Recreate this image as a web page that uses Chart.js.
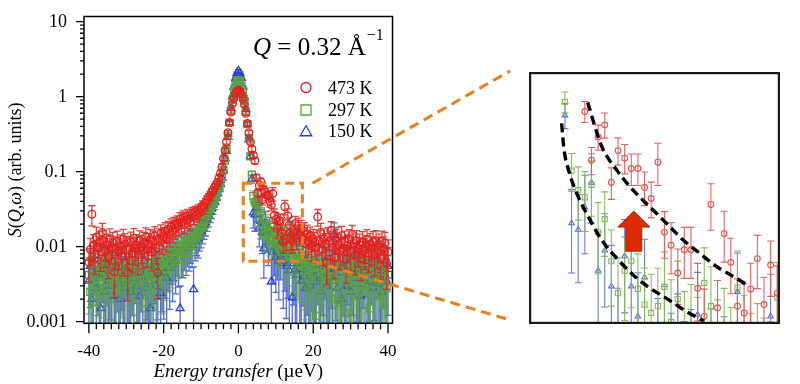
<!DOCTYPE html>
<html>
<head>
<meta charset="utf-8">
<script src="https://cdn.jsdelivr.net/npm/chart.js"></script>
<style>
  body { margin: 0; background: #fff; }
  #wrap { position: relative; width: 800px; height: 384px; }
  #main { position: absolute; left: 0; top: 0; }
  #inset { position: absolute; left: 525px; top: 68px; }
</style>
</head>
<body>
<div id="wrap">
  <canvas id="main" width="800" height="384"></canvas>
  <canvas id="inset" width="259" height="260"></canvas>
</div>
<script>
// energy transfer grid (µeV)
const energy = [
  -40,-39.6,-39.2,-38.8,-38.4,-38,-37.6,-37.2,-36.8,-36.4,
  -36,-35.6,-35.2,-34.8,-34.4,-34,-33.6,-33.2,-32.8,-32.4,
  -32,-31.6,-31.2,-30.8,-30.4,-30,-29.6,-29.2,-28.8,-28.4,
  -28,-27.6,-27.2,-26.8,-26.4,-26,-25.6,-25.2,-24.8,-24.4,
  -24,-23.6,-23.2,-22.8,-22.4,-22,-21.6,-21.2,-20.8,-20.4,
  -20,-19.6,-19.2,-18.8,-18.4,-18,-17.6,-17.2,-16.8,-16.4,
  -16,-15.6,-15.2,-14.8,-14.4,-14,-13.6,-13.2,-12.8,-12.4,
  -12,-11.6,-11.2,-10.8,-10.4,-10,-9.6,-9.2,-8.8,-8.4,
  -8,-7.6,-7.2,-6.8,-6.4,-6,-5.6,-5.2,-4.8,-4.4,
  -4,-3.6,-3.2,-2.8,-2.4,-2,-1.6,-1.2,-0.8,-0.4,
  0,
  0.4,0.8,1.2,1.6,2,2.4,2.8,3.2,3.6,4,
  4.4,4.8,5.2,5.6,6,6.4,6.8,7.2,7.6,8,
  8.4,8.8,9.2,9.6,10,10.4,10.8,11.2,11.6,12,
  12.4,12.8,13.2,13.6,14,14.4,14.8,15.2,15.6,16,
  16.4,16.8,17.2,17.6,18,18.4,18.8,19.2,19.6,20,
  20.4,20.8,21.2,21.6,22,22.4,22.8,23.2,23.6,24,
  24.4,24.8,25.2,25.6,26,26.4,26.8,27.2,27.6,28,
  28.4,28.8,29.2,29.6,30,30.4,30.8,31.2,31.6,32,
  32.4,32.8,33.2,33.6,34,34.4,34.8,35.2,35.6,36,
  36.4,36.8,37.2,37.6,38,38.4,38.8,39.2,39.6,40
];

// S(Q,w) at 473 K and relative error (%)
const s473 = [
  0.0062,0.0092,0.0270,0.0105,0.0078,0.0135,0.0098,0.0115,0.0085,0.0155,
  0.0120,0.0090,0.0105,0.0072,0.0128,0.0098,0.0112,0.0046,0.0095,0.0118,
  0.0088,0.0102,0.0075,0.0125,0.0108,0.0092,0.0045,0.0098,0.0115,0.0082,
  0.0130,0.0095,0.0105,0.0078,0.0120,0.0100,0.0088,0.0112,0.0135,0.0092,
  0.0108,0.0125,0.0085,0.0118,0.0140,0.0098,0.0045,0.0128,0.0150,0.0122,
  0.0135,0.0160,0.0128,0.0170,0.0145,0.0185,0.0160,0.0195,0.0175,0.0205,
  0.0188,0.0230,0.0210,0.0245,0.0198,0.0225,0.0260,0.0235,0.0215,0.0275,
  0.0250,0.0290,0.0265,0.0305,0.0280,0.0320,0.0350,0.0330,0.0380,0.0420,
  0.0450,0.0480,0.0530,0.0560,0.0620,0.0660,0.0720,0.0820,0.0950,0.1150,
  0.150,0.190,0.250,0.330,0.450,0.620,0.800,0.950,1.10,1.18,
  1.22,
  1.18,1.08,0.93,0.78,0.60,0.44,0.33,0.25,0.200,0.165,
  0.140,0.083,0.052,0.065,0.073,0.042,0.057,0.053,0.048,0.048,
  0.040,0.036,0.051,0.026,0.023,0.0176,0.022,0.022,0.0152,0.0116,
  0.034,0.0126,0.0257,0.0195,0.0128,0.012,0.0151,0.0202,0.013,0.019,
  0.0145,0.0175,0.0125,0.0160,0.0110,0.0148,0.0118,0.0138,0.0102,0.0128,
  0.0115,0.0098,0.0250,0.0120,0.0155,0.0092,0.0128,0.0108,0.0062,0.0135,
  0.0118,0.0165,0.0098,0.0072,0.0125,0.0135,0.0105,0.0088,0.0140,0.0095,
  0.0118,0.0068,0.0102,0.0125,0.0085,0.0145,0.0110,0.0078,0.0120,0.0092,
  0.0105,0.0070,0.0115,0.0088,0.0100,0.0125,0.0082,0.0108,0.0095,0.0115,
  0.0078,0.0120,0.0090,0.0105,0.0072,0.0118,0.0095,0.0112,0.0060,0.0085
];
const e473 = [
  45,40,30,38,45,35,40,38,45,32,
  36,42,40,48,35,40,38,55,42,36,
  44,40,46,36,38,42,58,40,36,44,
  34,40,38,46,35,40,42,38,32,42,
  38,35,44,36,32,40,55,35,30,36,
  33,30,34,28,31,27,30,26,28,25,
  26,23,25,22,25,23,21,22,24,20,
  21,19,20,18,19,17,16,17,15,14,
  13,13,12,12,11,11,10,10,9,9,
  8,8,7,7,6,6,5,5,5,5,
  5,
  5,5,5,5,6,6,7,7,8,8,
  9,10,13,12,12,15,13,14,15,15,
  16,17,20,22,24,26,24,24,27,30,
  22,30,24,26,30,32,28,25,30,26,
  30,28,33,30,35,31,34,32,37,33,
  35,38,25,36,32,40,35,38,50,34,
  36,30,40,48,36,34,40,44,33,42,
  36,52,40,35,44,32,38,46,36,42,
  40,50,38,44,40,35,45,38,42,38,
  48,36,44,40,50,36,42,38,55,45
];

// 297 K
const s297 = [
  0.0042,0.0025,0.0065,0.0018,0.0048,0.0030,0.0055,0.0022,0.0040,0.0062,
  0.0028,0.0045,0.0035,0.0058,0.0020,0.0050,0.0038,0.0068,0.0030,0.0045,
  0.0025,0.0055,0.0040,0.0032,0.0060,0.0035,0.0048,0.0022,0.0058,0.0042,
  0.0030,0.0052,0.0038,0.0065,0.0028,0.0045,0.0055,0.0018,0.0048,0.0035,
  0.0062,0.0040,0.0025,0.0052,0.0045,0.0068,0.0032,0.0055,0.0060,0.0042,
  0.0065,0.0050,0.0072,0.0058,0.0078,0.0062,0.0085,0.0070,0.0092,0.0075,
  0.0098,0.0082,0.0105,0.0090,0.0112,0.0095,0.0120,0.0105,0.0130,0.0115,
  0.0140,0.0128,0.0150,0.0140,0.0165,0.0180,0.0190,0.0215,0.0230,0.0260,
  0.0290,0.0320,0.0350,0.0390,0.0430,0.0480,0.0540,0.0620,0.0720,0.0850,
  0.105,0.140,0.200,0.300,0.450,0.650,0.900,1.15,1.40,1.60,
  1.65,
  1.58,1.38,1.12,0.87,0.63,0.43,0.28,0.16,0.091,0.047,
  0.039,0.0364,0.041,0.026,0.0295,0.0197,0.0145,0.018,0.0197,0.0151,
  0.013,0.012,0.0128,0.0154,0.0110,0.0137,0.0095,0.0105,0.0088,0.0160,
  0.0128,0.0085,0.0098,0.0078,0.0153,0.0090,0.0072,0.0082,0.0068,0.0065,
  0.0139,0.0060,0.0072,0.0055,0.0048,0.0065,0.0040,0.0058,0.0030,0.0052,
  0.0045,0.0012,0.0062,0.0038,0.0050,0.0025,0.0055,0.0042,0.0068,0.0035,
  0.0048,0.0020,0.0058,0.0040,0.0030,0.0052,0.0018,0.0045,0.0060,0.0035,
  0.0013,0.0050,0.0038,0.0062,0.0028,0.0045,0.0055,0.0022,0.0048,0.0035,
  0.0058,0.0030,0.0042,0.0065,0.0025,0.0050,0.0038,0.0015,0.0055,0.0040,
  0.0032,0.0060,0.0045,0.0022,0.0052,0.0038,0.0018,0.0048,0.0028,0.0042
];
const e297 = [
  70,85,55,95,65,80,60,90,72,58,
  82,68,75,60,92,66,74,55,80,70,
  88,62,72,78,58,75,66,90,60,70,
  80,64,74,56,85,70,62,95,66,76,
  58,72,86,64,68,54,78,62,58,70,
  56,62,52,58,50,55,48,52,45,50,
  44,48,42,45,40,43,38,41,36,39,
  35,37,33,34,30,28,27,25,23,21,
  19,18,16,15,14,13,12,11,10,9,
  8,8,7,6,6,5,5,5,5,4,
  4,
  4,5,5,5,6,6,7,8,10,18,
  25,28,26,33,30,35,40,38,36,40,
  42,45,44,40,50,44,55,50,58,40,
  46,60,55,62,42,58,66,60,68,70,
  40,70,62,74,78,66,82,70,90,75,
  80,99,66,85,74,95,70,82,60,88,
  76,98,68,84,92,72,99,80,64,88,
  99,74,86,62,92,78,70,95,76,86,
  66,90,80,60,95,74,84,99,70,82,
  90,64,78,96,72,84,99,76,92,80
];

// 150 K
const s150 = [
  0.0035,0.0055,0.0020,0.0045,0.0068,0.0028,0.0050,0.0038,0.0015,0.0060,
  0.0042,0.0025,0.0058,0.0035,0.0048,0.0030,0.0065,0.0022,0.0045,0.0052,
  0.0032,0.0020,0.0055,0.0040,0.0028,0.0062,0.0035,0.0045,0.0025,0.0050,
  0.0038,0.0058,0.0030,0.0045,0.0022,0.0052,0.0040,0.0065,0.0028,0.0048,
  0.0035,0.0015,0.0055,0.0042,0.0058,0.0030,0.0048,0.0062,0.0024,0.0052,
  0.0045,0.0060,0.0038,0.0068,0.0052,0.0075,0.0058,0.0080,0.0065,0.0088,
  0.0072,0.0015,0.0092,0.0085,0.0100,0.0090,0.0108,0.0098,0.0115,0.0105,
  0.0027,0.0120,0.0135,0.0128,0.0150,0.0160,0.0175,0.0195,0.0210,0.0235,
  0.0260,0.0290,0.0320,0.0360,0.0400,0.0450,0.0510,0.0580,0.0680,0.0820,
  0.105,0.150,0.190,0.290,0.450,0.700,1.00,1.35,1.75,2.05,
  2.20,
  2.05,1.75,1.35,0.98,0.68,0.43,0.27,0.16,0.080,0.0284,
  0.0267,0.0331,0.0419,0.0180,0.0219,0.0155,0.0095,0.0207,0.0155,0.0116,
  0.0169,0.0034,0.0085,0.0098,0.0072,0.0090,0.0065,0.0080,0.0118,0.0060,
  0.0075,0.0055,0.0068,0.0048,0.0147,0.0021,0.0060,0.0050,0.0042,0.0116,
  0.0050,0.0035,0.0062,0.0040,0.0028,0.0055,0.0045,0.0030,0.0058,0.0038,
  0.0048,0.0034,0.0060,0.0042,0.0025,0.0055,0.0038,0.0065,0.0030,0.0050,
  0.0040,0.0058,0.0035,0.0143,0.0052,0.0028,0.0062,0.0045,0.0020,0.0055,
  0.0042,0.0030,0.0060,0.0048,0.0025,0.0055,0.0038,0.0065,0.0032,0.0050,
  0.0045,0.0022,0.0058,0.0040,0.0068,0.0030,0.0050,0.0035,0.0062,0.0028,
  0.0052,0.0040,0.0065,0.0032,0.0048,0.0025,0.0058,0.0042,0.0035,0.0055
];
const e150 = [
  88,72,99,80,65,95,76,85,99,70,
  82,96,72,88,78,92,66,99,80,74,
  90,99,74,84,95,68,88,80,97,76,
  86,70,94,80,99,74,84,66,95,78,
  88,99,72,82,70,92,78,68,99,74,
  76,66,84,62,72,58,68,56,64,54,
  60,99,58,55,52,54,50,52,48,50,
  99,46,44,45,42,40,38,36,34,32,
  30,28,26,24,22,20,18,16,14,12,
  10,9,8,7,6,5,5,4,4,4,
  4,
  4,4,4,5,5,6,7,9,12,38,
  40,36,32,45,42,48,60,42,46,52,
  44,99,62,58,66,60,70,55,50,75,
  66,80,70,85,45,99,72,82,90,50,
  85,96,74,90,99,78,88,97,76,92,
  84,99,72,90,99,78,92,70,99,82,
  90,74,96,45,80,99,72,88,99,78,
  88,99,72,84,99,78,92,68,96,80,
  86,99,74,90,68,97,80,94,72,99,
  80,90,68,97,84,99,74,88,95,78
];

const seriesLabels = ['473 K', '297 K', '150 K'];

// guide curves drawn in the magnified panel
const guideUpperX = [4.97, 5.79, 6.78, 7.75, 8.74, 9.72, 10.69, 11.68, 12.66, 13.64, 14.52];
const guideUpperY = [0.0906, 0.060, 0.0467, 0.0387, 0.0331, 0.0284, 0.0243, 0.0214, 0.0189, 0.0172, 0.0158];
const guideLowerX = [3.40, 3.54, 3.84, 4.42, 5.01, 5.79, 6.78, 7.75, 8.74, 9.72, 10.89, 11.97];
const guideLowerY = [0.074, 0.058, 0.0467, 0.0364, 0.0302, 0.0243, 0.0201, 0.0172, 0.0152, 0.0138, 0.0122, 0.0111];

// arrow in the magnified panel (energy, from, to)
const arrowX = 7.75, arrowFrom = 0.0217, arrowTo = 0.0319;

// zoom box on the main panel
const boxX = [1.3, 17.1], boxY = [0.0064, 0.07];

const xTicks = [-40, -20, 0, 20, 40];
const yTicks = [0.001, 0.01, 0.1, 1, 10];
const yTickLabels = ['0.001', '0.01', '0.1', '1', '10'];

const SERIF = '"Liberation Serif", "Times New Roman", serif';
const RED = '#e3201b', GREEN = '#5ba33b', BLUE = '#2741d6', ORANGE = '#e8801e';

function pts(ys) {
  return energy.map((x, i) => ({ x: x, y: ys[i] }));
}

function drawRich(ctx, parts, x, y, align) {
  let w = 0;
  parts.forEach(p => { ctx.font = p[1]; w += ctx.measureText(p[0]).width; });
  let cx = align === 'center' ? x - w / 2 : x;
  parts.forEach(p => { ctx.font = p[1]; ctx.fillText(p[0], cx, y); cx += ctx.measureText(p[0]).width; });
  return cx;
}

function marker(ctx, style, x, y, r) {
  ctx.beginPath();
  if (style === 'circle') {
    ctx.arc(x, y, r, 0, Math.PI * 2);
  } else if (style === 'rect') {
    ctx.rect(x - r, y - r, 2 * r, 2 * r);
  } else {
    ctx.moveTo(x, y - r * 1.05);
    ctx.lineTo(x + r * 1.15, y + r * 0.95);
    ctx.lineTo(x - r * 1.15, y + r * 0.95);
    ctx.closePath();
  }
  ctx.stroke();
}

// error bars, drawn just before each dataset's markers
const errorBars = {
  id: 'errorBars',
  beforeDatasetDraw(chart, args, opts) {
    const ds = chart.data.datasets[args.index];
    if (!ds.errPct) return;
    const { ctx, chartArea: a, scales: { x, y } } = chart;
    const cap = opts.cap;
    ctx.save();
    ctx.beginPath();
    ctx.rect(a.left, a.top, a.right - a.left, a.bottom - a.top);
    ctx.clip();
    ctx.strokeStyle = ds.barColor;
    ctx.lineWidth = opts.width;
    ctx.beginPath();
    ds.data.forEach((p, i) => {
      const px = x.getPixelForValue(p.x);
      if (px < a.left - 10 || px > a.right + 10) return;
      const e = p.y * ds.errPct[i] / 100;
      const top = y.getPixelForValue(p.y + e);
      const lo = p.y - e;
      const bot = lo > 0 ? Math.min(y.getPixelForValue(lo), a.bottom + 10) : a.bottom + 10;
      ctx.moveTo(px, top); ctx.lineTo(px, bot);
      ctx.moveTo(px - cap, top); ctx.lineTo(px + cap, top);
      if (lo > 0) { ctx.moveTo(px - cap, bot); ctx.lineTo(px + cap, bot); }
    });
    ctx.stroke();
    ctx.restore();
  }
};

const mainDecor = {
  id: 'mainDecor',
  afterDraw(chart) {
    const { ctx, chartArea: a, scales: { x, y } } = chart;
    ctx.save();
    ctx.strokeStyle = '#000';
    ctx.fillStyle = '#000';

    // frame
    ctx.lineWidth = 1.5;
    ctx.strokeRect(a.left, a.top, a.right - a.left, a.bottom - a.top);

    // ticks
    ctx.lineWidth = 1.3;
    ctx.beginPath();
    yTicks.forEach(v => {
      const py = y.getPixelForValue(v);
      ctx.moveTo(a.left, py); ctx.lineTo(a.left - 8, py);
    });
    yTicks.slice(0, -1).forEach(v => {
      for (let k = 2; k <= 9; k++) {
        const py = y.getPixelForValue(v * k);
        ctx.moveTo(a.left, py); ctx.lineTo(a.left - 4, py);
      }
    });
    xTicks.forEach(v => {
      const px = x.getPixelForValue(v);
      ctx.moveTo(px, a.bottom); ctx.lineTo(px, a.bottom + 10);
    });
    for (let v = -38; v < 40; v += 2) {
      if (v % 20 === 0) continue;
      const px = x.getPixelForValue(v);
      ctx.moveTo(px, a.bottom); ctx.lineTo(px, a.bottom + 6);
    }
    ctx.stroke();

    // tick labels
    ctx.font = '18px ' + SERIF;
    ctx.textAlign = 'right';
    ctx.textBaseline = 'middle';
    yTicks.forEach((v, i) => ctx.fillText(yTickLabels[i], a.left - 17, y.getPixelForValue(v) + 1));
    ctx.font = '17px ' + SERIF;
    ctx.textAlign = 'center';
    ctx.textBaseline = 'alphabetic';
    xTicks.forEach(v => ctx.fillText(String(v), x.getPixelForValue(v), 356));

    // axis titles
    ctx.textAlign = 'left';
    drawRich(ctx, [['Energy transfer', 'italic 19px ' + SERIF], [' (\u00b5eV)', '19px ' + SERIF]],
      (a.left + a.right) / 2, 377, 'center');
    ctx.save();
    ctx.translate(21, (a.top + a.bottom) / 2);
    ctx.rotate(-Math.PI / 2);
    const it = 'italic 18px ' + SERIF, rm = '18px ' + SERIF;
    drawRich(ctx, [['S', it], ['(', rm], ['Q', it], [',', rm], ['\u03c9', it], [') (arb. units)', rm]], 0, 0, 'center');
    ctx.restore();

    // Q label
    const end = drawRich(ctx, [['Q', 'italic 25px ' + SERIF], [' = 0.32 \u00c5', '25px ' + SERIF]], 253, 54.5, 'left');
    ctx.font = '16px ' + SERIF;
    ctx.fillText('\u22121', end + 1, 40);

    // legend
    const colors = [RED, GREEN, BLUE], styles = ['circle', 'rect', 'triangle'], ly = [87.5, 110, 131];
    ctx.font = '18px ' + SERIF;
    ctx.lineWidth = 1.3;
    seriesLabels.forEach((lab, i) => {
      ctx.strokeStyle = colors[i];
      marker(ctx, styles[i], 306, ly[i], 5);
      ctx.fillStyle = '#000';
      ctx.fillText(lab, 328, ly[i] + 6);
    });

    // zoom box and connectors
    const bx0 = x.getPixelForValue(boxX[0]), bx1 = x.getPixelForValue(boxX[1]);
    const by0 = y.getPixelForValue(boxY[1]), by1 = y.getPixelForValue(boxY[0]);
    ctx.strokeStyle = ORANGE;
    ctx.lineWidth = 3;
    ctx.setLineDash([9, 5]);
    ctx.strokeRect(bx0, by0, bx1 - bx0, by1 - by0);
    ctx.setLineDash([10, 6]);
    ctx.beginPath();
    ctx.moveTo(bx1 + 10, by0); ctx.lineTo(510, 71);
    ctx.moveTo(bx1 + 10, by1); ctx.lineTo(510, 320);
    ctx.stroke();
    ctx.restore();
  }
};

const insetDecor = {
  id: 'insetDecor',
  afterDatasetsDraw(chart) {
    const { ctx, scales: { x, y } } = chart;
    const px = x.getPixelForValue(arrowX);
    const tip = y.getPixelForValue(arrowTo), base = y.getPixelForValue(arrowFrom);
    ctx.save();
    ctx.fillStyle = '#dd2a00';
    ctx.strokeStyle = '#b82000';
    ctx.lineWidth = 1;
    ctx.beginPath();
    ctx.moveTo(px, tip);
    ctx.lineTo(px + 16, tip + 16);
    ctx.lineTo(px + 8, tip + 16);
    ctx.lineTo(px + 8, base);
    ctx.lineTo(px - 8, base);
    ctx.lineTo(px - 8, tip + 16);
    ctx.lineTo(px - 16, tip + 16);
    ctx.closePath();
    ctx.fill();
    ctx.stroke();
    ctx.restore();
  },
  afterDraw(chart) {
    const { ctx, chartArea: a } = chart;
    ctx.save();
    ctx.strokeStyle = '#1a1a1a';
    ctx.lineWidth = 2.2;
    ctx.strokeRect(a.left, a.top, a.right - a.left, a.bottom - a.top);
    ctx.restore();
  }
};

function seriesSet(big) {
  const c = big
    ? [[RED, 'rgba(227,32,27,0.85)'], [GREEN, 'rgba(91,163,59,0.72)'], [BLUE, 'rgba(39,65,214,0.78)']]
    : [['#e65050', 'rgba(230,80,80,0.9)'], ['#86b85a', 'rgba(134,184,90,0.95)'], ['#5a6fd8', 'rgba(90,111,216,0.9)']];
  const r = big ? [3.8, 5, 4.6] : [2.9, 3.6, 3.2];
  const bw = big ? 1.3 : 1.1;
  const vals = [s473, s297, s150], errs = [e473, e297, e150], st = ['circle', 'rect', 'triangle'];
  return vals.map((v, i) => ({
    label: seriesLabels[i],
    data: pts(v),
    errPct: errs[i],
    barColor: c[i][1],
    pointStyle: st[i],
    pointRadius: r[i],
    pointBorderWidth: bw,
    borderColor: c[i][0],
    pointBorderColor: c[i][0],
    backgroundColor: 'rgba(0,0,0,0)',
    pointBackgroundColor: 'rgba(0,0,0,0)',
    showLine: false
  }));
}

const common = {
  responsive: false,
  animation: false,
  events: [],
  plugins: { legend: { display: false }, tooltip: { enabled: false } }
};

new Chart(document.getElementById('main'), {
  type: 'scatter',
  data: { datasets: seriesSet(true) },
  options: Object.assign({}, common, {
    layout: { padding: { left: 84, right: 407.5, top: 16.5, bottom: 60.7 } },
    scales: {
      x: { type: 'linear', min: -41.3, max: 41.2, display: false },
      y: { type: 'logarithmic', min: 0.00095, max: 11.7, display: false }
    },
    plugins: Object.assign({}, common.plugins, { errorBars: { width: 1.3, cap: 3.5 } })
  }),
  plugins: [errorBars, mainDecor]
});

const guides = [[guideUpperX, guideUpperY], [guideLowerX, guideLowerY]].map(g => ({
  data: g[0].map((x, i) => ({ x: x, y: g[1][i] })),
  showLine: true,
  borderColor: '#000',
  borderWidth: 3.4,
  borderDash: [9, 5],
  pointRadius: 0,
  cubicInterpolationMode: 'monotone'
}));

new Chart(document.getElementById('inset'), {
  type: 'scatter',
  data: { datasets: guides.concat(seriesSet(false)) },
  options: Object.assign({}, common, {
    layout: { padding: 2 },
    scales: {
      x: { type: 'linear', min: 1.5, max: 16.5, display: false },
      y: { type: 'logarithmic', min: 0.0109, max: 0.12, display: false }
    },
    plugins: Object.assign({}, common.plugins, { errorBars: { width: 1.1, cap: 3.5 } })
  }),
  plugins: [errorBars, insetDecor]
});
</script>
</body>
</html>
